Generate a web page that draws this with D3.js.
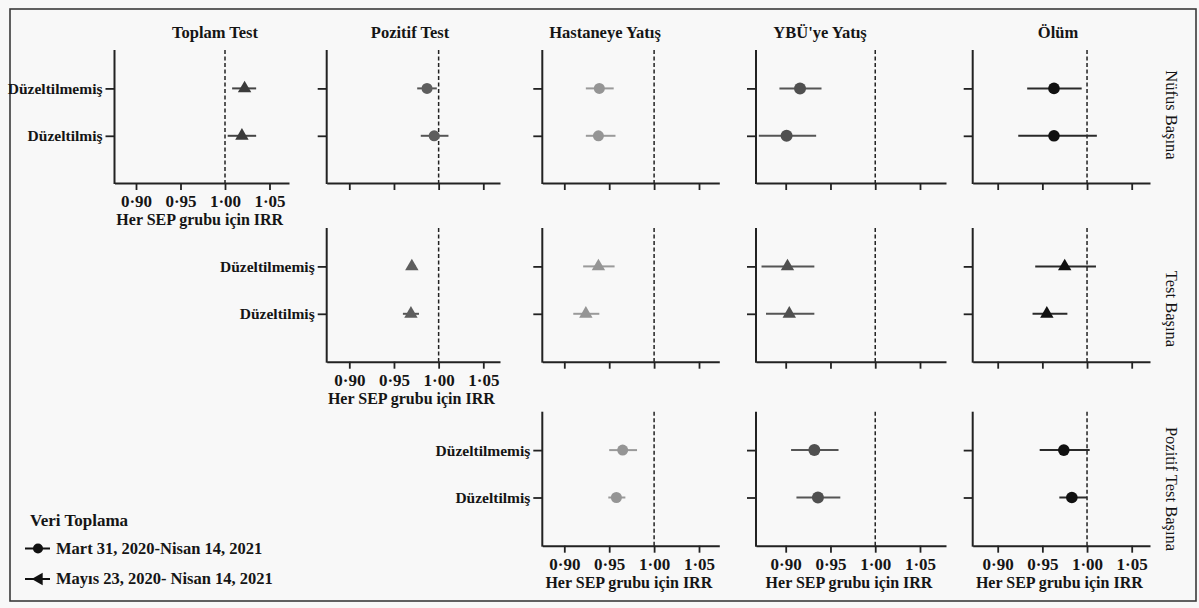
<!DOCTYPE html>
<html>
<head>
<meta charset="utf-8">
<script src="https://cdn.jsdelivr.net/npm/d3@7"></script>
<style>
  html, body { margin: 0; padding: 0; background: #f8f8f8; }
  svg { display: block; }
  text { font-family: "Liberation Serif", "DejaVu Serif", serif; fill: #151515; }
</style>
</head>
<body>
<svg id="chart" width="1199" height="608"></svg>
<script>
// ---------------- DATA ----------------
const outcomes = ["Toplam Test", "Pozitif Test", "Hastaneye Yatış", "YBÜ'ye Yatış", "Ölüm"];
const rateTypes = ["Nüfus Başına", "Test Başına", "Pozitif Test Başına"];
const adjustments = ["Düzeltilmemiş", "Düzeltilmiş"];
const xTicks = [0.90, 0.95, 1.00, 1.05];
const xTitle = "Her SEP grubu için IRR";
const legendTitle = "Veri Toplama";
const periods = ["Mart 31, 2020-Nisan 14, 2021", "Mayıs 23, 2020- Nisan 14, 2021"];

// per outcome: [Düzeltilmemiş, Düzeltilmiş]; null = no panel
const nufusIRR  = [[1.022, 1.019], [0.987, 0.995], [0.939, 0.938], [0.916, 0.901], [0.963, 0.963]];
const nufusLow  = [[1.008, 1.003], [0.976, 0.980], [0.924, 0.924], [0.893, 0.870], [0.933, 0.923]];
const nufusHigh = [[1.035, 1.035], [0.998, 1.011], [0.955, 0.957], [0.940, 0.934], [0.994, 1.011]];
const nufusPeriod = [1, 0, 0, 0, 0];

const testIRR  = [null, [0.970, 0.969], [0.938, 0.924], [0.902, 0.904], [0.975, 0.955]];
const testLow  = [null, [0.966, 0.960], [0.921, 0.910], [0.873, 0.878], [0.942, 0.939]];
const testHigh = [null, [0.974, 0.978], [0.956, 0.939], [0.932, 0.932], [1.010, 0.978]];
const testPeriod = [null, 1, 1, 1, 1];

const pozitifIRR  = [null, null, [0.965, 0.958], [0.932, 0.936], [0.974, 0.983]];
const pozitifLow  = [null, null, [0.950, 0.949], [0.906, 0.912], [0.947, 0.969]];
const pozitifHigh = [null, null, [0.981, 0.968], [0.959, 0.961], [1.003, 1.000]];
const pozitifPeriod = [null, null, 0, 0, 0];

// ---------------- LAYOUT / STYLE ----------------
const svg = d3.select("#chart");
const colAxisX = [114.5, 326.7, 542.3, 756, 972.7];
const colEndX  = [289, 500, 719.3, 946, 1150];
const colX90   = [136, 349.3, 564.3, 785.7, 997.7];
const colX105  = [269.5, 483.3, 699, 920, 1131.7];
const colTitleX = [215, 410, 605, 820, 1058];
const rowTop    = [50, 228, 411.7];
const rowBottom = [183, 361.7, 545.7];
const rowLabelY = [115, 309, 489];
const colColor  = ["#3b3b3b", "#5e5e5e", "#959595", "#505050", "#111111"];
const colLine   = ["#444444", "#555555", "#9a9a9a", "#555555", "#2a2a2a"];
const colRadius = [5.5, 5.5, 5.5, 6, 5.8];

const rowsData = [
  {irr: nufusIRR, low: nufusLow, high: nufusHigh, period: nufusPeriod},
  {irr: testIRR, low: testLow, high: testHigh, period: testPeriod},
  {irr: pozitifIRR, low: pozitifLow, high: pozitifHigh, period: pozitifPeriod}
];

// outer frame
svg.append("rect").attr("x", 10).attr("y", 9).attr("width", 1186).attr("height", 592)
  .attr("fill", "none").attr("stroke", "#3a3a3a").attr("stroke-width", 1.6);

// column titles
outcomes.forEach((o, c) => {
  svg.append("text").attr("x", colTitleX[c]).attr("y", 38).attr("text-anchor", "middle")
    .attr("font-size", 16.5).attr("font-weight", "bold").text(o);
});

// row labels
rateTypes.forEach((r, i) => {
  svg.append("text").attr("transform", `translate(1166,${rowLabelY[i]}) rotate(90)`)
    .attr("text-anchor", "middle").attr("font-size", 16.5).text(r);
});

function xScaleFor(c) {
  const base = d3.scaleLinear().domain([0.90, 1.05]).range([colX90[c], colX105[c]]);
  return d3.scaleLinear().domain([base.invert(colAxisX[c]), base.invert(colEndX[c])])
    .range([colAxisX[c], colEndX[c]]);
}

rowsData.forEach((rd, r) => {
  const firstCol = rd.irr.findIndex(d => d !== null);
  rd.irr.forEach((vals, c) => {
    if (vals === null) return;
    const x = xScaleFor(c);
    const y = d3.scalePoint().domain(adjustments).range([rowTop[r] + 38.4, rowTop[r] + 85.8]);
    const g = svg.append("g");
    const showXLabels = r === 2 || rowsData[r + 1].irr[c] === null;
    const showYLabels = c === firstCol;

    // x axis
    const xa = d3.axisBottom(x).tickValues(xTicks).tickSize(7).tickSizeOuter(0).tickPadding(5)
      .tickFormat(showXLabels ? (d => d3.format(".2f")(d).replace(".", "·")) : "");
    const gx = g.append("g").attr("transform", `translate(0,${rowBottom[r]})`).call(xa);
    gx.select(".domain").attr("stroke", "#222").attr("stroke-width", 2);
    gx.selectAll(".tick line").attr("stroke", "#222").attr("stroke-width", 1.8);
    gx.selectAll(".tick text").attr("font-size", 17).attr("font-weight", 600)
      .attr("font-family", "'Liberation Serif', serif").attr("fill", "#151515");
    if (showXLabels) {
      g.append("text").attr("x", (colAxisX[c] + colEndX[c]) / 2 - 2).attr("y", rowBottom[r] + 42)
        .attr("text-anchor", "middle").attr("font-size", 16).attr("font-weight", "bold").text(xTitle);
    }

    // y axis
    const ya = d3.axisLeft(y).tickSize(9).tickSizeOuter(0).tickPadding(3)
      .tickFormat(showYLabels ? (d => d) : "");
    const gy = g.append("g").attr("transform", `translate(${colAxisX[c]},0)`).call(ya);
    gy.select(".domain").remove();
    gy.selectAll(".tick line").attr("stroke", "#222").attr("stroke-width", 1.8);
    gy.selectAll(".tick text").attr("font-size", 15.5).attr("font-weight", "bold")
      .attr("font-family", "'Liberation Serif', serif").attr("fill", "#151515");
    g.append("line").attr("x1", colAxisX[c]).attr("x2", colAxisX[c])
      .attr("y1", rowTop[r]).attr("y2", rowBottom[r] + 1).attr("stroke", "#222").attr("stroke-width", 2);

    // reference line at 1.00
    g.append("line").attr("x1", x(1)).attr("x2", x(1)).attr("y1", rowTop[r]).attr("y2", rowBottom[r])
      .attr("stroke", "#222").attr("stroke-width", 1.5).attr("stroke-dasharray", "4,2.5");

    // error bars & markers
    const pts = adjustments.map((a, i) => ({a, v: vals[i], lo: rd.low[c][i], hi: rd.high[c][i]}));
    g.selectAll(".ci").data(pts).enter().append("line")
      .attr("x1", d => x(d.lo)).attr("x2", d => x(d.hi))
      .attr("y1", d => y(d.a)).attr("y2", d => y(d.a))
      .attr("stroke", colLine[c]).attr("stroke-width", 2);
    if (rd.period[c] === 0) {
      g.selectAll(".pt").data(pts).enter().append("circle")
        .attr("cx", d => x(d.v)).attr("cy", d => y(d.a)).attr("r", colRadius[c])
        .attr("fill", colColor[c]);
    } else {
      g.selectAll(".pt").data(pts).enter().append("path")
        .attr("d", d3.symbol().type(d3.symbolTriangle).size(78))
        .attr("transform", d => `translate(${x(d.v)},${y(d.a)})`)
        .attr("fill", colColor[c]);
    }
  });
});

// legend
svg.append("text").attr("x", 30).attr("y", 526).attr("font-size", 17).attr("font-weight", "bold").text(legendTitle);
const legY = [548.5, 579];
periods.forEach((p, i) => {
  svg.append("line").attr("x1", 25).attr("x2", 50).attr("y1", legY[i]).attr("y2", legY[i])
    .attr("stroke", "#111").attr("stroke-width", 2);
  if (i === 0) {
    svg.append("circle").attr("cx", 38).attr("cy", legY[i]).attr("r", 5).attr("fill", "#111");
  } else {
    svg.append("path").attr("d", d3.symbol().type(d3.symbolTriangle).size(70))
      .attr("transform", `translate(39,${legY[i]}) rotate(-90)`).attr("fill", "#111");
  }
  svg.append("text").attr("x", 56).attr("y", legY[i] + 5).attr("font-size", 16.5).attr("font-weight", "bold").text(p);
});
</script>
</body>
</html>
